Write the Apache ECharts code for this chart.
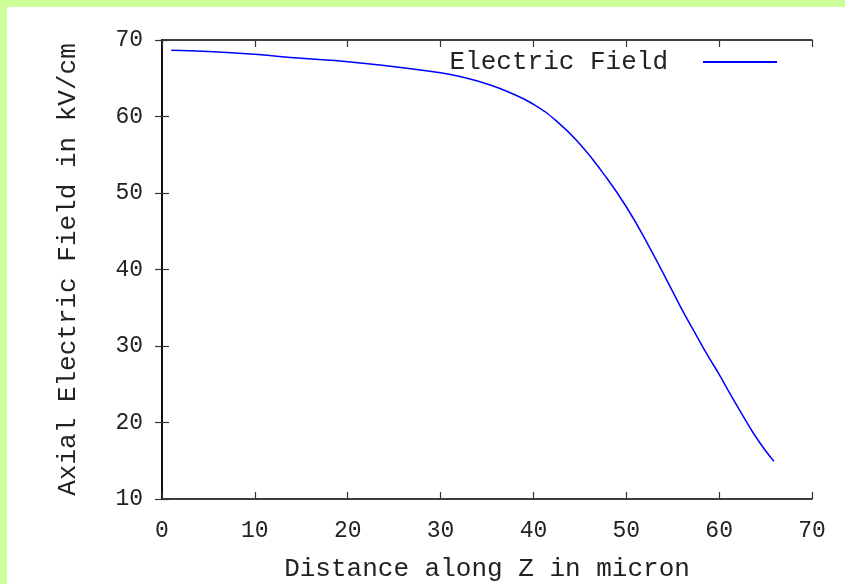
<!DOCTYPE html>
<html>
<head>
<meta charset="utf-8">
<script src="https://cdn.jsdelivr.net/npm/echarts@6/dist/echarts.min.js"></script>
<style>
  html, body { margin: 0; padding: 0; width: 845px; height: 584px; background: #ccff99; overflow: hidden; }
  #chart { position: absolute; left: 7px; top: 7px; width: 838px; height: 577px; background: #ffffff; }
</style>
</head>
<body>
<div id="chart"></div>
<script>
// Axial electric field along the Z axis
const distanceMicron = [1, 5, 10, 15, 20, 25, 30, 32.5, 35, 37.5, 40, 42.5, 45, 47.5, 50, 52.5, 55, 56.25, 57.5, 58.75, 60, 61.25, 62.5, 63.75, 65, 65.9];
const fieldKVcm = [68.65, 68.5, 68.13, 67.6, 67.16, 66.5, 65.72, 65.1, 64.25, 63.1, 61.6, 59.4, 56.4, 52.6, 48.2, 42.9, 37.1, 34.2, 31.5, 28.8, 26.3, 23.6, 21.0, 18.5, 16.3, 14.95];
const xTicks = [0, 10, 20, 30, 40, 50, 60, 70];
const yTicks = [10, 20, 30, 40, 50, 60, 70];

const seriesName = 'Electric Field';
const xTitle = 'Distance along Z in micron';
const yTitle = 'Axial Electric Field in kV/cm';

const FONT = '"Liberation Mono", "DejaVu Sans Mono", monospace';
const INK = '#222222';

const points = distanceMicron.map((x, i) => [x, fieldKVcm[i]]);

const baseAxis = {
  axisLine: { show: true, lineStyle: { color: '#000', width: 1.5 } },
  axisTick: { show: true, inside: true, length: 7, lineStyle: { color: '#333', width: 1.2 } },
  splitLine: { show: false }
};

const chart = echarts.init(document.getElementById('chart'), null, { renderer: 'canvas' });
chart.setOption({
  backgroundColor: '#ffffff',
  animation: false,
  grid: { left: 155, top: 33, width: 650, height: 459, containLabel: false, outerBoundsMode: 'none' },
  legend: {
    data: [seriesName],
    right: 63,
    top: 37,
    align: 'right',
    icon: 'rect',
    itemWidth: 74,
    itemHeight: 2,
    textStyle: { fontFamily: FONT, fontSize: 26, color: INK, padding: [0, 30, 0, 0] }
  },
  xAxis: [
    Object.assign({}, baseAxis, {
      type: 'value', min: xTicks[0], max: xTicks[xTicks.length - 1], interval: 10,
      position: 'bottom',
      name: xTitle, nameLocation: 'middle', nameGap: 57,
      nameTextStyle: { fontFamily: FONT, fontSize: 26, color: INK },
      axisLabel: { fontFamily: FONT, fontSize: 23, color: INK, margin: 20 }
    }),
    Object.assign({}, baseAxis, {
      type: 'value', min: xTicks[0], max: xTicks[xTicks.length - 1], interval: 10,
      position: 'top', axisLabel: { show: false }
    })
  ],
  yAxis: [
    Object.assign({}, baseAxis, {
      type: 'value', min: yTicks[0], max: yTicks[yTicks.length - 1], interval: 10,
      position: 'left',
      name: yTitle, nameLocation: 'middle', nameGap: 81, nameRotate: 90,
      nameTextStyle: { fontFamily: FONT, fontSize: 26, color: INK },
      axisLabel: { fontFamily: FONT, fontSize: 23, color: INK, margin: 19, verticalAlign: 'middle' }
    }),
    Object.assign({}, baseAxis, {
      type: 'value', min: yTicks[0], max: yTicks[yTicks.length - 1], interval: 10,
      position: 'right', axisLabel: { show: false }
    })
  ],
  series: [{
    name: seriesName,
    type: 'line',
    data: points,
    smooth: 0.5,
    showSymbol: false,
    symbol: 'none',
    lineStyle: { color: '#0000ff', width: 1.5 },
    itemStyle: { color: '#0000ff' }
  }]
});
</script>
</body>
</html>
